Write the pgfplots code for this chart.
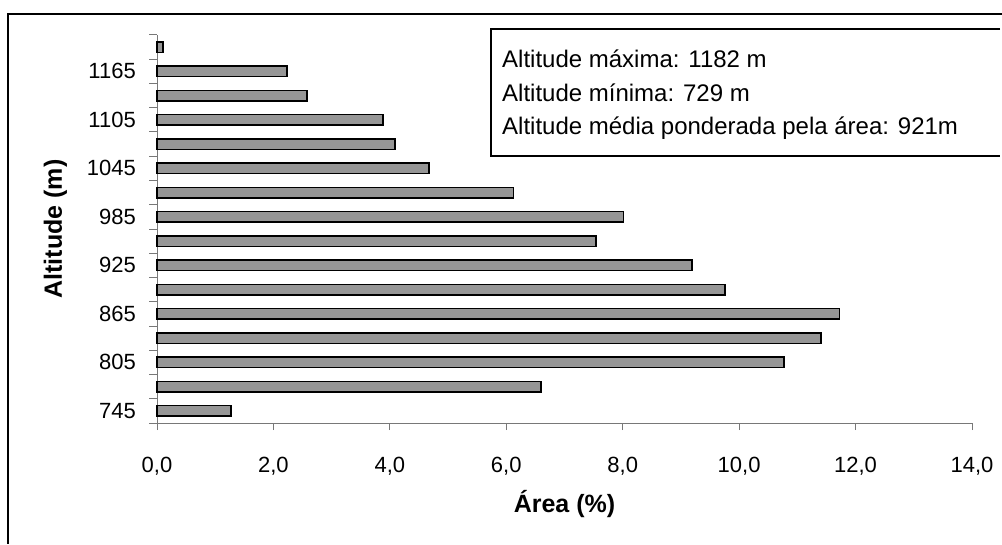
\documentclass[border=0pt]{standalone}
\usepackage{pgfplots}
\pgfplotsset{compat=1.18}
\usepackage{fontspec}
\setmainfont{Liberation Sans}
\definecolor{barfill}{RGB}{150,150,150}
\definecolor{axgray}{RGB}{120,120,120}
\begin{document}
\begin{tikzpicture}
\useasboundingbox (0pt,0pt) rectangle (1002pt,544pt);
\draw[black, line width=1.5pt, line cap=butt] (1002pt,530pt) -- (8pt,530pt) -- (8pt,0pt);
\draw[black, line width=1.5pt, line cap=butt] (1000pt,515pt) -- (491pt,515pt) -- (491pt,388pt) -- (1000pt,388pt);
\node[anchor=base west, inner sep=0pt, font=\fontsize{24}{28}\selectfont] at (502pt,476.3pt) {Altitude máxima: 1182 m};
\node[anchor=base west, inner sep=0pt, font=\fontsize{24}{28}\selectfont] at (502pt,442.3pt) {Altitude mínima: 729 m};
\node[anchor=base west, inner sep=0pt, font=\fontsize{24}{28}\selectfont] at (502pt,409pt) {Altitude média ponderada pela área: 921m};
\begin{axis}[
  at={(157pt,121pt)}, anchor=south west,
  scale only axis, width=815pt, height=388pt,
  xmin=0, xmax=14, ymin=-0.5, ymax=15.5,
  xbar, bar width=10.5pt,
  axis x line*=bottom, axis y line*=left,
  axis line style={-, draw=axgray, line width=1pt},
  tick align=outside,
  major tick length=7pt, minor tick length=8pt,
  xtick={0,2,...,14},
  ytick={0,2,...,14},
  yticklabels={745,805,865,925,985,1045,1105,1165},
  minor ytick={-0.5,0.5,...,15.5},
  major x tick style={draw=axgray, line width=1pt},
  major y tick style={draw=none},
  minor y tick style={draw=axgray, line width=1pt},
  /pgf/number format/.cd, fixed, fixed zerofill, precision=1, use comma, assume math mode=true,
  /pgfplots/.cd,
  xticklabel style={font=\fontsize{22}{26}\selectfont, inner sep=0pt},
  yticklabel style={font=\fontsize{22}{26}\selectfont, anchor=east, inner sep=0pt, xshift=-14pt},
  xticklabel shift=27pt,
  xlabel={Área (\%)},
  xlabel style={at={(axis description cs:0.5,0)}, anchor=base, inner sep=0pt, yshift=-89pt, font=\bfseries\fontsize{25}{29}\selectfont},
  ylabel={Altitude (m)},
  ylabel style={at={(axis description cs:0,0.5)}, anchor=base, inner sep=0pt, yshift=95pt, font=\bfseries\fontsize{25}{29}\selectfont},
  clip=false,
]
\addplot[fill=barfill, draw=black, line width=1.5pt] coordinates {
(1.27,0) (6.60,1) (10.77,2) (11.41,3) (11.72,4) (9.76,5) (9.19,6) (7.54,7)
(8.01,8) (6.12,9) (4.67,10) (4.09,11) (3.88,12) (2.58,13) (2.23,14) (0.10,15)
};
\end{axis}
\end{tikzpicture}
\end{document}
